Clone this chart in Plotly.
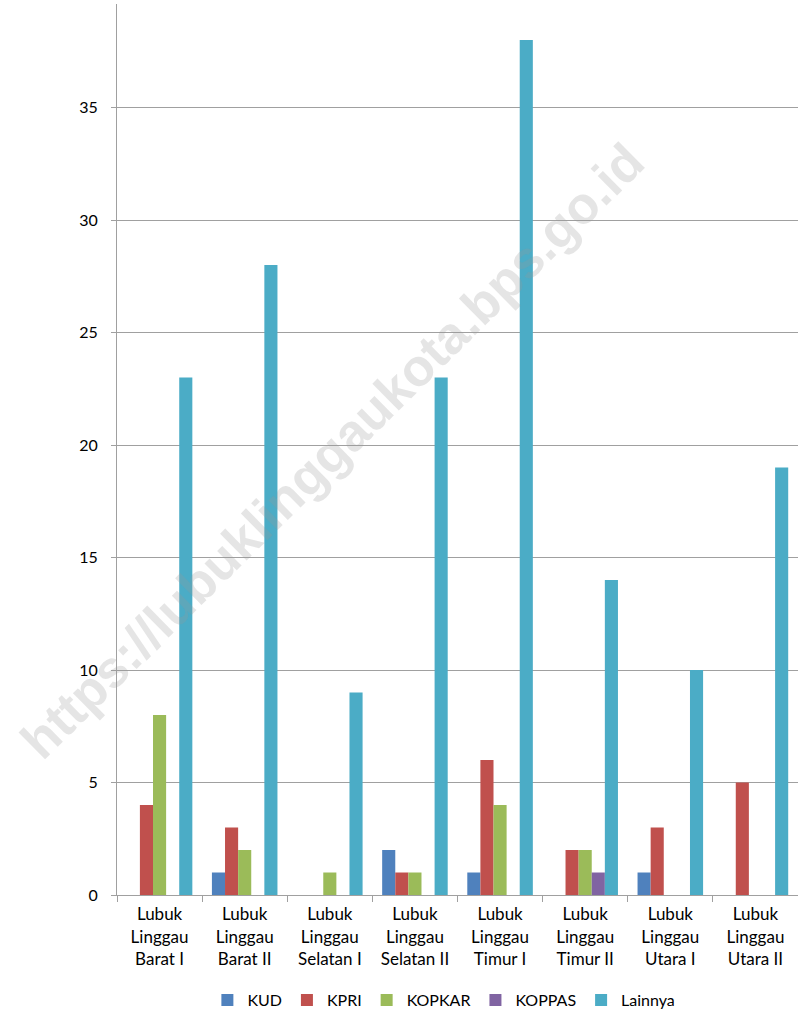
import plotly.graph_objects as go

categories = ["Lubuk<br>Linggau<br>Barat I", "Lubuk<br>Linggau<br>Barat II", "Lubuk<br>Linggau<br>Selatan I",
              "Lubuk<br>Linggau<br>Selatan II", "Lubuk<br>Linggau<br>Timur I", "Lubuk<br>Linggau<br>Timur II",
              "Lubuk<br>Linggau<br>Utara I", "Lubuk<br>Linggau<br>Utara II"]
kud = [0, 1, 0, 2, 1, 0, 1, 0]
kpri = [4, 3, 0, 1, 6, 2, 3, 5]
kopkar = [8, 2, 1, 1, 4, 2, 0, 0]
koppas = [0, 0, 0, 0, 0, 1, 0, 0]
lainnya = [23, 28, 9, 23, 38, 14, 10, 19]

series = [("KUD", kud, "#4F81BD"), ("KPRI", kpri, "#C0504D"), ("KOPKAR", kopkar, "#9BBB59"),
          ("KOPPAS", koppas, "#8064A2"), ("Lainnya", lainnya, "#4BACC6")]

fig = go.Figure()
for name, vals, col in series:
    fig.add_trace(go.Bar(x=categories, y=vals, name=name, marker=dict(color=col, line=dict(width=0))))

font = "Lato, 'Open Sans', sans-serif"
fig.update_layout(
    width=798, height=1012,
    margin=dict(l=117, r=0, t=4, b=117, autoexpand=False),
    paper_bgcolor="white", plot_bgcolor="white",
    barmode="group", bargap=0.23, bargroupgap=0,
    font=dict(family=font, size=16, color="#000000"),
    showlegend=True,
    legend=dict(orientation="h", x=0.48, xanchor="center", y=-0.118, yanchor="middle",
                font=dict(size=16), itemwidth=30, traceorder="normal"),
    xaxis=dict(showline=True, linecolor="#A0A0A0", linewidth=1, ticks="outside", ticklen=6,
               tickcolor="#A0A0A0", tickson="boundaries", showgrid=False, tickfont=dict(size=17),
               automargin=False, ticklabelstandoff=4),
    yaxis=dict(range=[0, 39.6], dtick=5, showline=True, linecolor="#A0A0A0", linewidth=1,
               ticks="outside", ticklen=5, tickcolor="#A0A0A0", showgrid=True, gridcolor="#A0A0A0",
               gridwidth=1, zeroline=False, tickfont=dict(size=16), ticklabelstandoff=10,
               automargin=False),
    annotations=[dict(text="<b>https://lubuklinggaukota.bps.go.id</b>", xref="paper", yref="paper",
                      x=0.316, y=0.498, xanchor="center", yanchor="middle", showarrow=False,
                      textangle=-44.6, font=dict(family="Liberation Sans, Arial", size=52,
                                                 color="rgba(150,150,150,0.25)"))],
)
fig.write_html("out.html", config={"displayModeBar": False},
               post_script="document.body.style.margin='0';document.body.style.overflow='hidden';")
